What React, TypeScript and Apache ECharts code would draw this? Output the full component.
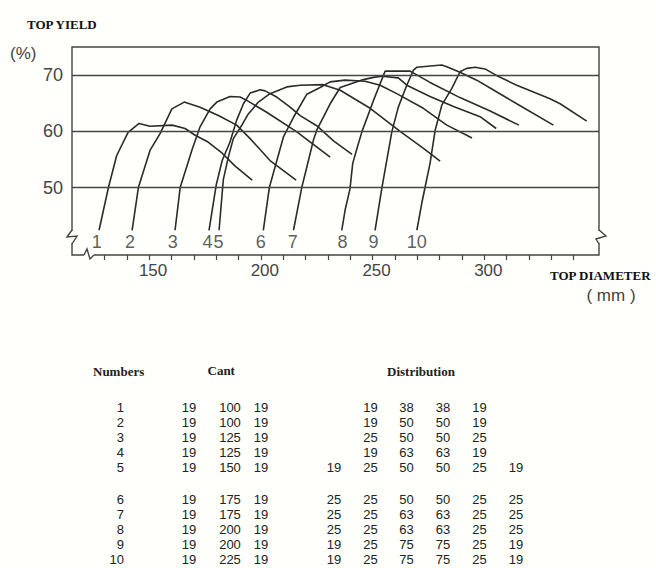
import React, { useEffect, useRef } from "react";
import * as echarts from "echarts";

// ---- chart data (top diameter mm, top yield %) ----
const curve1 = [[127.6,42.4],[131.8,50.0],[135.5,55.7],[140.6,59.8],[145.5,61.4],[150.4,60.9],[160.3,61.1],[166.1,60.5],[170.6,59.3],[176.4,58.1],[182.7,56.1],[188.5,53.8],[196.1,51.3]];
const curve2 = [[142.4,42.4],[145.2,50.0],[150.4,56.6],[154.9,59.6],[160.2,64.0],[165.7,65.2],[172.8,64.3],[181.0,62.8],[189.2,61.1],[195.2,58.7],[204.1,54.8],[215.8,51.3]];
const curve3 = [[161.6,42.4],[163.9,50.0],[169.1,56.6],[172.8,60.8],[177.3,64.0],[180.3,65.2],[186.2,66.2],[190.7,66.1],[193.7,65.5],[202.6,63.4],[216.1,59.9],[231.0,55.4]];
const curve4 = [[176.8,42.4],[180.0,50.4],[182.7,54.8],[186.2,58.1],[189.2,62.0],[192.2,64.9],[195.2,66.8],[199.7,67.4],[201.9,67.2],[207.1,66.1],[213.1,64.3],[217.6,62.8],[225.0,61.0],[232.5,58.3],[240.8,55.9]];
const curve5 = [[181.3,42.4],[183.2,51.4],[185.5,55.5],[187.7,58.7],[191.5,61.1],[194.4,63.1],[198.9,65.2],[204.1,66.7],[211.6,67.9],[217.6,68.2],[227.9,68.3],[235.5,67.3],[248.9,64.1],[262.3,60.0],[272.6,57.0],[280.2,54.7]];
const curve6 = [[201.1,42.4],[203.8,50.0],[210.1,59.0],[214.6,62.5],[220.6,66.6],[226.5,67.8],[231.0,68.8],[237.7,69.1],[246.6,68.9],[253.4,68.2],[260.8,66.7],[272.7,64.1],[283.2,61.1],[294.5,58.8]];
const curve7 = [[214.6,42.4],[218.3,50.0],[220.6,53.7],[223.5,58.4],[225.0,60.2],[231.0,64.9],[235.5,67.8],[245.9,69.2],[250.4,69.6],[254.1,69.8],[261.5,69.5],[265.3,68.2],[275.7,66.2],[286.2,64.4],[298.1,62.6],[305.3,60.5]];
const curve8 = [[236.2,42.4],[237.7,46.0],[239.9,49.8],[241.1,54.3],[243.2,57.2],[245.2,59.9],[250.4,65.5],[255.6,70.7],[266.8,70.7],[275.7,68.7],[289.1,66.0],[302.6,63.6],[315.5,61.1]];
const curve9 = [[251.1,42.4],[254.1,49.8],[258.6,59.9],[261.5,64.3],[265.3,68.2],[268.3,70.9],[269.8,71.4],[280.9,71.8],[283.2,71.5],[289.1,70.5],[296.6,69.1],[305.6,67.0],[314.5,64.9],[330.9,61.1]];
const curve10 = [[269.8,42.4],[272.0,47.2],[273.5,50.1],[275.7,54.3],[278.0,60.2],[281.0,64.7],[285.4,67.6],[289.1,70.6],[292.1,71.2],[295.9,71.4],[300.3,71.1],[305.6,69.9],[314.5,68.2],[329.4,65.8],[333.9,64.9],[345.8,61.8]];
const curves = [curve1, curve2, curve3, curve4, curve5, curve6, curve7, curve8, curve9, curve10];

const curveNames = ["1", "2", "3", "4", "5", "6", "7", "8", "9", "10"];
const curveLabelX = [126.6, 141.5, 160.6, 176.1, 181.0, 200.0, 214.3, 236.5, 250.4, 269.8];
const curveLabelY = 40.3;

const xTickValues = [130, 140, 150, 160, 170, 180, 190, 200, 210, 220, 230, 240, 250, 260, 270, 280, 290, 300, 310, 320, 330, 340];
const xLabelValues = [150, 200, 250, 300];
const yLabelValues = [50, 60, 70];
const gridLineValues = [50, 60, 70];

// ---- table data ----
const tableNumbers = ["1", "2", "3", "4", "5", "6", "7", "8", "9", "10"];
const cantValues = [
  [19, 100, 19], [19, 100, 19], [19, 125, 19], [19, 125, 19], [19, 150, 19],
  [19, 175, 19], [19, 175, 19], [19, 200, 19], [19, 200, 19], [19, 225, 19],
];
const distributionValues = [
  [null, 19, 38, 38, 19, null],
  [null, 19, 50, 50, 19, null],
  [null, 25, 50, 50, 25, null],
  [null, 19, 63, 63, 19, null],
  [19, 25, 50, 50, 25, 19],
  [25, 25, 50, 50, 25, 25],
  [25, 25, 63, 63, 25, 25],
  [25, 25, 63, 63, 25, 25],
  [19, 25, 75, 75, 25, 19],
  [19, 25, 75, 75, 25, 19],
];

const SANS = "'Liberation Sans Narrow', 'Liberation Sans', Arial, sans-serif";
const SERIF = "'Liberation Serif', 'Times New Roman', serif";
const INK = "#2b2b2b";

function buildTable(): any[] {
  const els: any[] = [];
  const txt = (x: number, y: number, s: string, align = "center", font = `13px 'Liberation Sans', Arial, sans-serif`) => ({
    type: "text", x, y, z: 100,
    style: { text: s, font, fill: "#222", textAlign: align, textVerticalAlign: "middle" },
  });
  els.push(txt(93, 371.5, "Numbers", "left", `bold 13px ${SERIF}`));
  els.push(txt(207.5, 370, "Cant", "left", `bold 13px ${SERIF}`));
  els.push(txt(387, 371, "Distribution", "left", `bold 13px ${SERIF}`));
  const cantX = [189, 230, 261];
  const distX = [334, 370.5, 406.5, 443, 479.5, 516];
  tableNumbers.forEach((n, i) => {
    const y = i < 5 ? 407.7 + 15 * i : 499.3 + 15.15 * (i - 5);
    els.push(txt(124, y, n, "right"));
    cantValues[i].forEach((v, j) => els.push(txt(cantX[j], y, String(v))));
    distributionValues[i].forEach((v, j) => {
      if (v !== null) els.push(txt(distX[j], y, String(v)));
    });
  });
  return els;
}

function buildBreaks(): any[] {
  const ls = { stroke: "#444", lineWidth: 1.4, fill: null };
  return [
    // left axis break
    { type: "rect", z: 100, shape: { x: 66, y: 231, width: 12, height: 12 }, style: { fill: "#fffffb" } },
    { type: "polyline", z: 101, shape: { points: [[72, 230], [67, 237], [77, 236], [72, 244]] }, style: ls },
    // bottom axis break
    { type: "rect", z: 100, shape: { x: 84, y: 250, width: 10, height: 10 }, style: { fill: "#fffffb" } },
    { type: "polyline", z: 101, shape: { points: [[84, 255], [87, 249], [90, 259], [94, 255]] }, style: ls },
    // right border break
    { type: "rect", z: 100, shape: { x: 594, y: 231, width: 12, height: 12 }, style: { fill: "#fffffb" } },
    { type: "polyline", z: 101, shape: { points: [[599, 230], [606, 236], [596, 239], [599, 244]] }, style: ls },
  ];
}

export default function App() {
  const ref = useRef<HTMLDivElement>(null);
  useEffect(() => {
    if (!ref.current) return;
    const chart = echarts.init(ref.current, null, { renderer: "svg" });
    const lineSeries = curves.map((c, i) => ({
      type: "line",
      name: curveNames[i],
      data: c,
      symbol: "none",
      lineStyle: { color: INK, width: 1.6 },
      z: 3,
      markLine: i === 0 ? {
        silent: true,
        symbol: "none",
        label: { show: false },
        lineStyle: { color: "#444", width: 1.3, type: "solid" },
        data: gridLineValues.map((v) => ({ yAxis: v })),
      } : undefined,
    }));
    chart.setOption({
      animation: false,
      backgroundColor: "#fffffb",
      grid: { left: 72, right: 57, top: 47, bottom: 313, show: true, borderColor: "#444", borderWidth: 1.4, backgroundColor: "transparent" },
      xAxis: {
        type: "value", min: 115.5, max: 351.3,
        axisLine: { show: false },
        axisTick: { show: true, customValues: xTickValues, length: 5, inside: false, lineStyle: { color: "#444", width: 1.2 } },
        axisLabel: { customValues: xLabelValues, margin: 7, fontSize: 17, fontFamily: SANS, color: "#444", padding: [0, 0, 0, 8] },
        splitLine: { show: false },
      },
      yAxis: {
        type: "value", min: 38, max: 75,
        axisLine: { show: false },
        axisTick: { show: false },
        axisLabel: { customValues: yLabelValues, margin: 9, fontSize: 18, fontFamily: SANS, color: "#444" },
        splitLine: { show: false },
      },
      series: [
        ...lineSeries,
        {
          type: "scatter",
          name: "labels",
          data: curveLabelX.map((x, i) => [x, curveLabelY, curveNames[i]]),
          symbolSize: 0.01,
          itemStyle: { color: "transparent" },
          z: 5,
          label: {
            show: true, position: "inside", formatter: (p: any) => p.value[2],
            fontSize: 18, fontFamily: SANS, color: "#333",
          },
        },
      ],
      graphic: [
        { type: "text", x: 27, y: 24.5, z: 100, style: { text: "TOP YIELD", font: `bold 13px ${SERIF}`, fill: "#111", textVerticalAlign: "middle" } },
        { type: "text", x: 10, y: 53, z: 100, style: { text: "(%)", font: `17px ${SANS}`, fill: "#444", textVerticalAlign: "middle" } },
        { type: "text", x: 550, y: 275, z: 100, style: { text: "TOP DIAMETER", font: `bold 13px ${SERIF}`, fill: "#111", textVerticalAlign: "middle" } },
        { type: "text", x: 611, y: 295, z: 100, style: { text: "( mm )", font: `17px ${SANS}`, fill: "#444", textAlign: "center", textVerticalAlign: "middle" } },
        ...buildBreaks(),
        ...buildTable(),
      ],
    });
    return () => chart.dispose();
  }, []);
  return <div ref={ref} style={{ position: "fixed", left: 0, top: 0, width: 656, height: 568 }} />;
}
